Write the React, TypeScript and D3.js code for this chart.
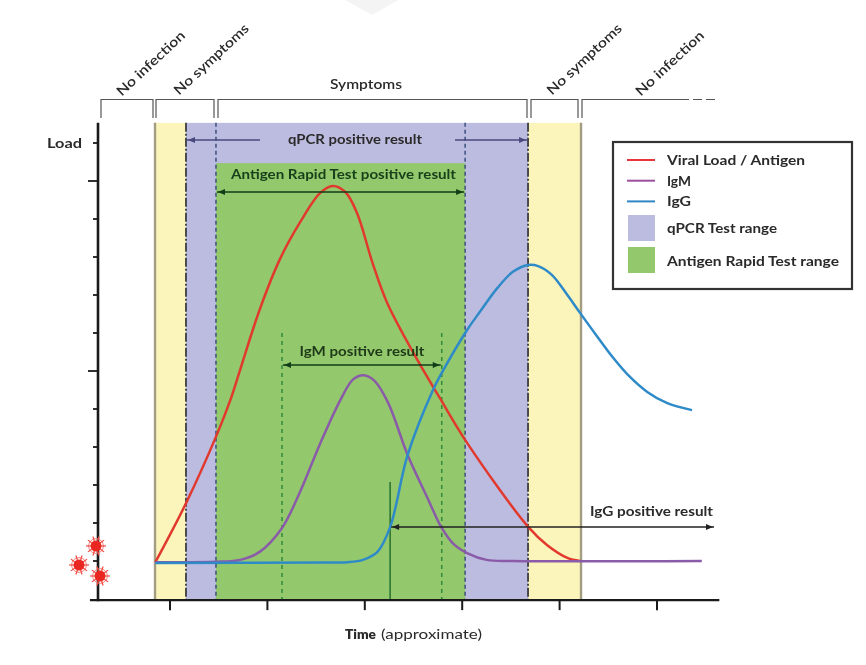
import React from "react";
import * as d3 from "d3";

// time in x-tick units (0 = first tick), load in y-tick units (0 = baseline tick)
const redTime = [-0.15, 0.17, 0.47, 0.62, 0.72, 0.92, 1.13, 1.33, 1.54, 1.67, 1.8, 1.92, 2.08, 2.23, 2.54, 2.77, 3.05, 3.68, 3.87, 4.08, 4.21];
const redLoad = [-0.03, 1.55, 3.26, 4.24, 5.03, 6.61, 7.95, 8.89, 9.68, 9.87, 9.71, 9.16, 7.84, 6.79, 5.29, 4.29, 3.11, 0.89, 0.42, 0.08, 0];
const igmTime = [-0.15, 0.47, 0.72, 0.92, 1.15, 1.33, 1.54, 1.75, 1.88, 1.99, 2.1, 2.24, 2.44, 2.64, 2.79, 2.91, 3.05, 3.25, 3.52, 5.46];
const igmLoad = [-0.03, -0.02, 0.03, 0.24, 0.87, 1.79, 3.08, 4.24, 4.78, 4.89, 4.74, 4.16, 2.79, 1.68, 0.87, 0.45, 0.21, 0.03, 0, 0];
const iggTime = [-0.15, 1.6, 1.82, 1.98, 2.13, 2.26, 2.44, 2.7, 2.79, 3.05, 3.18, 3.36, 3.52, 3.68, 3.78, 3.92, 4.08, 4.21, 4.38, 4.55, 4.72, 4.9, 5.1, 5.36];
const iggLoad = [-0.05, -0.04, -0.03, 0.03, 0.24, 0.89, 2.79, 4.5, 4.95, 6.08, 6.55, 7.18, 7.61, 7.79, 7.76, 7.53, 7.0, 6.53, 5.93, 5.35, 4.85, 4.45, 4.16, 3.97];

const xTicks = [0, 1, 2, 3, 4, 5];
const yTicks = [0, 1, 2, 3, 4, 5, 6, 7, 8, 9, 10, 11];
const yMajor = [5, 10];
const infectionStart = -0.154, pcrStart = 0.164, antigenStart = 0.472, antigenEnd = 3.03, pcrEnd = 3.676, symptomEnd = 4.22;
const igmStart = 1.15, igmEnd = 2.79, iggStart = 2.26;
const axisLeft = -0.74, axisRight = 5.64, axisBottom = -1.03, bandTop = 11.53, antigenTop = 10.47;

const legendLines = [["Viral Load / Antigen", "#e8343a"], ["IgM", "#9b4f9e"], ["IgG", "#2f86c5"]];
const legendRects = [["qPCR Test range", "#bcbce0"], ["Antigen Rapid Test range", "#94c86c"]];
const viruses = [[96, 546], [79, 565], [100, 576]];

const x = d3.scaleLinear().domain([0, 5]).range([170, 657]);
const y = d3.scaleLinear().domain([0, 11]).range([561, 143]);
const line = d3.line<number[]>().x(d => x(d[0])).y(d => y(d[1])).curve(d3.curveCatmullRom.alpha(0.5));
const zip = (a: number[], b: number[]) => a.map((v, i) => [v, b[i]]);

const font = "Lato, 'Open Sans', sans-serif";
const dark = "#2a2a2a";

function Lbl({ xp, yp, w, size = 13.5, fill = dark, weight = 700, rot, anchor = "middle", children }: any) {
  return (
    <text x={xp} y={yp} fontSize={size} fontFamily={font} fontWeight={weight} fill={fill} textAnchor={anchor}
      dominantBaseline="central" textLength={w} lengthAdjust="spacingAndGlyphs"
      transform={rot ? `rotate(${rot} ${xp} ${yp})` : undefined}>{children}</text>
  );
}

function Arrow({ x1, x2, yp, color, left, right }: any) {
  return (
    <g>
      <line x1={x1} x2={x2} y1={yp} y2={yp} stroke={color} strokeWidth={1.3} />
      {left && <path d={`M${x1 + 1},${yp}l7,-3v6z`} fill={color} />}
      {right && <path d={`M${x2 - 1},${yp}l-7,-3v6z`} fill={color} />}
    </g>
  );
}

function Bracket({ x1, x2, open }: any) {
  return <path d={`M${x1},118V99.5H${x2}${open ? "" : "V118"}`} fill="none" stroke="#555" strokeWidth={1.2} />;
}

function Virus({ cx, cy }: any) {
  const spikes = d3.range(10).map(i => (i * Math.PI * 2) / 10);
  return (
    <g>
      <circle cx={cx} cy={cy} r={5.5} fill="#e9261f" />
      <circle cx={cx} cy={cy} r={7.4} fill="none" stroke="#f4877f" strokeWidth={1} />
      {spikes.map((a, i) => (
        <line key={i} x1={cx + Math.cos(a) * 5} y1={cy + Math.sin(a) * 5} x2={cx + Math.cos(a) * 10} y2={cy + Math.sin(a) * 10}
          stroke="#ee4a42" strokeWidth={1.2} />
      ))}
    </g>
  );
}

export default function App() {
  const top = y(bandTop), bottom = y(axisBottom);
  return (
    <svg width={866} height={665} style={{ position: "absolute", left: 0, top: 0, background: "#fff", filter: "blur(0.4px)" }}>
      {/* faint scan marks */}
      <path d="M345,0L372,15L398,0Z" fill="#f4f4f4" />

      {/* bands */}
      <rect x={x(infectionStart)} y={top} width={x(pcrStart) - x(infectionStart)} height={bottom - top} fill="#fbf5bb" />
      <rect x={x(pcrEnd)} y={top} width={x(symptomEnd) - x(pcrEnd)} height={bottom - top} fill="#fbf5bb" />
      <rect x={x(pcrStart)} y={top} width={x(pcrEnd) - x(pcrStart)} height={bottom - top} fill="#bcbce0" />
      <rect x={x(antigenStart)} y={y(antigenTop)} width={x(antigenEnd) - x(antigenStart)} height={bottom - y(antigenTop)} fill="#94c86c" />

      {/* boundaries */}
      {[infectionStart, symptomEnd].map((t, i) => (
        <line key={i} x1={x(t)} x2={x(t)} y1={top} y2={bottom} stroke="#a39d84" strokeWidth={2.4} />
      ))}
      {[pcrStart, pcrEnd].map((t, i) => (
        <line key={i} x1={x(t)} x2={x(t)} y1={top} y2={bottom} stroke="#1c1c24" strokeWidth={1.5} strokeDasharray="9 2 2 2" />
      ))}
      {[antigenStart, antigenEnd].map((t, i) => (
        <line key={i} x1={x(t)} x2={x(t)} y1={top} y2={bottom} stroke="#3d4f7d" strokeWidth={1.5} strokeDasharray="4 3" />
      ))}
      {[igmStart, igmEnd].map((t, i) => (
        <line key={i} x1={x(t)} x2={x(t)} y1={333} y2={bottom} stroke="#2f8a3a" strokeWidth={1.5} strokeDasharray="4 4" />
      ))}
      <line x1={x(iggStart)} x2={x(iggStart)} y1={482} y2={bottom} stroke="#1f6b2a" strokeWidth={1.4} />

      {/* curves */}
      <path d={line(zip(redTime, redLoad)) ?? ""} fill="none" stroke="#e2392f" strokeWidth={2.5} />
      <path d={line(zip(igmTime, igmLoad)) ?? ""} fill="none" stroke="#8a5ba8" strokeWidth={2.5} />
      <path d={line(zip(iggTime, iggLoad)) ?? ""} fill="none" stroke="#2f8ac8" strokeWidth={2.5} />

      {/* axes */}
      <line x1={98} x2={98} y1={top} y2={bottom + 1} stroke="#1a1a1a" strokeWidth={2.6} />
      <line x1={x(axisLeft) - 8} x2={x(axisRight)} y1={bottom} y2={bottom} stroke="#1a1a1a" strokeWidth={2.4} />
      {yTicks.map(t => (
        <line key={t} x1={yMajor.includes(t) ? 88 : 93} x2={98} y1={y(t)} y2={y(t)} stroke="#1a1a1a" strokeWidth={1.8} />
      ))}
      {xTicks.map(t => (
        <line key={t} x1={x(t)} x2={x(t)} y1={bottom} y2={bottom + 10} stroke="#1a1a1a" strokeWidth={2} />
      ))}
      <Lbl xp={64.5} yp={143} w={35}>Load</Lbl>
      <Lbl xp={345} yp={634} w={31} anchor="start" weight={800}>Time</Lbl>
      <Lbl xp={381} yp={634} w={101} anchor="start" weight={400}>(approximate)</Lbl>

      {/* phase brackets */}
      <Bracket x1={101} x2={153} />
      <Bracket x1={156} x2={214} />
      <Bracket x1={218} x2={527} />
      <Bracket x1={531} x2={578} />
      <Bracket x1={582} x2={680} open />
      <line x1={680} x2={719} y1={99.5} y2={99.5} stroke="#555" strokeWidth={1.2} strokeDasharray="9 4" />
      <Lbl xp={150.5} yp={63} w={88} rot={-43} weight={600}>No infection</Lbl>
      <Lbl xp={211} yp={59} w={97} rot={-43} weight={600}>No symptoms</Lbl>
      <Lbl xp={366} yp={84} w={72} weight={600}>Symptoms</Lbl>
      <Lbl xp={584} yp={59} w={97} rot={-43} weight={600}>No symptoms</Lbl>
      <Lbl xp={669.5} yp={63} w={88} rot={-43} weight={600}>No infection</Lbl>

      {/* result ranges */}
      <Arrow x1={x(pcrStart) + 1} x2={260} yp={140} color="#4a4a80" left />
      <Arrow x1={455} x2={x(pcrEnd) - 1} yp={140} color="#4a4a80" right />
      <Lbl xp={355} yp={139} w={134}>qPCR positive result</Lbl>
      <Arrow x1={x(antigenStart) + 1} x2={x(antigenEnd) - 1} yp={192} color="#123d18" left right />
      <Lbl xp={343.5} yp={174} w={225} fill="#173f1a">Antigen Rapid Test positive result</Lbl>
      <Arrow x1={x(igmStart) + 1} x2={x(igmEnd) - 1} yp={365} color="#123d18" left right />
      <Lbl xp={362} yp={351} w={125} fill="#1e3a18">IgM positive result</Lbl>
      <Arrow x1={x(iggStart) + 1} x2={714} yp={527} color="#222" left right />
      <Lbl xp={651.5} yp={511} w={123}>IgG positive result</Lbl>

      {viruses.map((v, i) => <Virus key={i} cx={v[0]} cy={v[1]} />)}

      {/* legend */}
      <rect x={613} y={142} width={239} height={147} fill="#fff" stroke="#333" strokeWidth={2.2} />
      {legendLines.map((l, i) => (
        <g key={l[0]}>
          <line x1={627} x2={655} y1={160 + i * 20.7} y2={160 + i * 20.7} stroke={l[1]} strokeWidth={2} />
          <Lbl xp={667} yp={160 + i * 20.7} anchor="start" w={[138, 24, 24][i]}>{l[0]}</Lbl>
        </g>
      ))}
      {legendRects.map((l, i) => (
        <g key={l[0]}>
          <rect x={628} y={215 + i * 32} width={27} height={26} fill={l[1]} />
          <Lbl xp={667} yp={228 + i * 32.5} anchor="start" w={[110, 172][i]}>{l[0]}</Lbl>
        </g>
      ))}
    </svg>
  );
}
